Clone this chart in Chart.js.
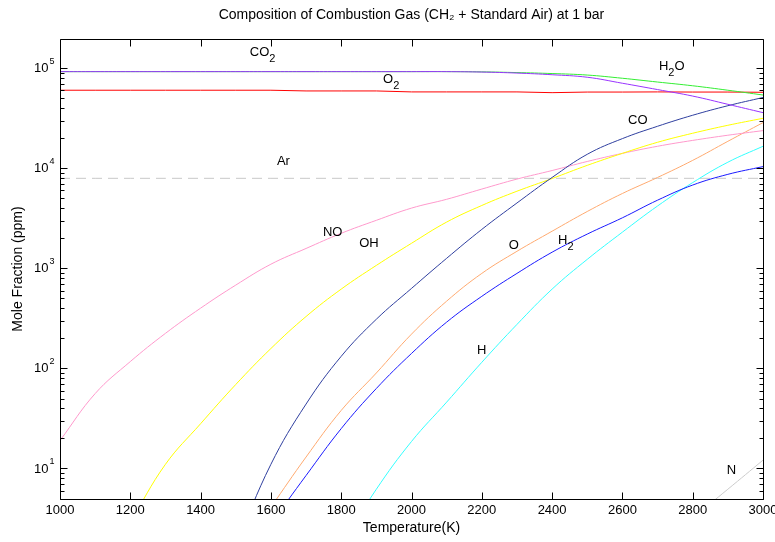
<!DOCTYPE html>
<html>
<head>
<meta charset="utf-8">
<script src="https://cdn.jsdelivr.net/npm/chart.js@4.4.1/dist/chart.umd.min.js"></script>
<style>
html,body{margin:0;padding:0;background:#fff;}
#wrap{width:775px;height:542px;}
canvas{display:block;}
</style>
</head>
<body>
<div id="wrap"><canvas id="c" width="775" height="542"></canvas></div>
<script>
// ---- data (mole fraction in ppm vs temperature in K) ----
const temps = [1000,1100,1200,1300,1400,1500,1600,1700,1800,1900,2000,2100,2200,2300,2400,2500,2600,2700,2800,2900,3000];
const co2 = [92500,92500,92500,92500,92500,92500,92500,92500,92500,92500,92500,92500,91600,89500,86100,81300,70800,61200,52700,43600,36000];
const h2o = [92500,92500,92500,92500,92500,92500,92500,92500,92500,92500,92500,92500,92000,90500,88500,85500,79400,72800,66800,60300,54000];
const o2  = [60300,60300,60300,60300,60300,60300,60300,59300,59300,59300,58000,58000,58000,58000,57000,57800,57800,58000,57800,57800,57500];
const coV = [null,null,null,null,null,1.7,11,44,132,310,630,1260,2450,4500,8100,13800,19800,26300,33900,42200,51000];
const oh  = [null,null,2.9,11,28,69,158,330,620,1070,1780,2900,4250,5900,7900,10700,14100,18200,22400,26900,31600];
const no  = [19,56,117,224,400,680,1100,1580,2240,3020,4000,4900,6200,7800,9500,11700,14100,16600,19000,21400,23800];
const oV  = [null,null,null,null,null,null,4.1,13,38,90,220,470,890,1480,2350,3700,5600,8100,12000,18600,28600];
const h2  = [null,null,null,null,null,null,2.8,8.5,25,63,141,290,525,890,1450,2200,3200,4800,6800,8700,10400];
const hV  = [null,null,null,null,null,null,null,null,1.7,6.2,18.6,46,115,275,620,1230,2300,4200,7200,11500,16600];
const nV  = [null,null,null,null,null,null,null,null,null,null,null,null,null,null,null,null,null,null,3.2,6.2,12.1];
const ar  = [7940,7940,7940,7940,7940,7940,7940,7940,7940,7940,7940,7940,7940,7940,7940,7940,7940,7940,7940,7940,7940];
const xTicks = [1000,1200,1400,1600,1800,2000,2200,2400,2600,2800,3000];
const yDecades = [1,2,3,4,5];

// in-plot labels: text ('_' marks a subscript char), anchor temperature, anchor value
const labelTexts = ['CO_2','H_2O','O_2','CO','Ar','NO','OH','O','H_2','H','N'];
const labelT = [1540,2704,1919,2616,1617,1748,1851,2277,2417,2186,2897];
const labelV = [144000,105000,78200,30400,11800,2300,1790,1710,1920,152,9.6];

const FONT = '"Liberation Sans", Arial, Helvetica, sans-serif';

function pts(arr){ return temps.map((t,i)=>({x:t, y:arr[i]})); }
function ds(label, arr, color, extra){
  return Object.assign({label, data: pts(arr), borderColor: color, backgroundColor: color,
    borderWidth: 1, pointRadius: 0, fill: false, tension: 0.4, spanGaps: false}, extra||{});
}

const frame = {
  id: 'frame',
  afterDatasetsDraw(chart){
    const {ctx, chartArea: a, scales: {x, y}} = chart;
    ctx.save();
    ctx.strokeStyle = '#000';
    ctx.lineWidth = 1;
    const L = Math.floor(a.left) + 0.5, R = Math.floor(a.right) + 0.5;
    const T = Math.floor(a.top) + 0.5, B = Math.floor(a.bottom) + 0.5;
    ctx.beginPath();
    ctx.rect(L, T, R - L, B - T);
    xTicks.forEach(t => {
      const px = Math.round(x.getPixelForValue(t)) + 0.5;
      ctx.moveTo(px, B); ctx.lineTo(px, B - 7);
      ctx.moveTo(px, T); ctx.lineTo(px, T + 7);
    });
    for (let e = 0; e <= 5; e++) {
      for (let m = 1; m <= 9; m++) {
        const v = m * Math.pow(10, e);
        if (v < y.min || v > y.max) continue;
        const py = Math.round(y.getPixelForValue(v)) + 0.5;
        const len = m === 1 ? 7 : 4;
        ctx.moveTo(L, py); ctx.lineTo(L + len, py);
        ctx.moveTo(R, py); ctx.lineTo(R - len, py);
      }
    }
    ctx.stroke();

    ctx.fillStyle = '#000';
    yDecades.forEach(e => {
      const py = y.getPixelForValue(Math.pow(10, e));
      ctx.font = '13px ' + FONT;
      ctx.textAlign = 'right';
      ctx.textBaseline = 'middle';
      ctx.fillText('10', 48.5, py + 0.5);
      ctx.font = '9px ' + FONT;
      ctx.textAlign = 'left';
      ctx.textBaseline = 'alphabetic';
      ctx.fillText(String(e), 49.5, py - 4.5);
    });

    labelTexts.forEach((txt, i) => {
      let cx = x.getPixelForValue(labelT[i]);
      const cy = y.getPixelForValue(labelV[i]);
      ctx.textAlign = 'left';
      ctx.textBaseline = 'middle';
      for (let k = 0; k < txt.length; k++) {
        let ch = txt[k], sub = false;
        if (ch === '_') { sub = true; k++; ch = txt[k]; }
        ctx.font = (sub ? '11px ' : '13px ') + FONT;
        ctx.fillText(ch, cx, sub ? cy + 7 : cy);
        cx += ctx.measureText(ch).width;
      }
    });
    ctx.restore();
  }
};

new Chart(document.getElementById('c'), {
  type: 'line',
  data: {
    datasets: [
      ds('CO2', co2, '#9933ff'),
      ds('H2O', h2o, '#33ee33'),
      ds('O2', o2, '#ff0000', {tension: 0}),
      ds('CO', coV, '#2f3f9f'),
      ds('OH', oh, '#ffff00'),
      ds('NO', no, '#ff99cc'),
      ds('O', oV, '#ffaa70'),
      ds('H2', h2, '#1a1aff'),
      ds('H', hV, '#33ffff'),
      ds('N', nV, '#cccccc'),
      ds('Ar', ar, '#c8c8c8', {borderDash: [10, 6], tension: 0})
    ]
  },
  options: {
    responsive: false,
    animation: false,
    devicePixelRatio: 1,
    events: [],
    layout: { padding: { left: 0, right: 12, top: 0, bottom: 0 }, autoPadding: false },
    plugins: {
      legend: { display: false },
      tooltip: { enabled: false },
      title: {
        display: true,
        text: 'Composition of Combustion Gas (CH\u2082 + Standard Air) at 1 bar',
        color: '#000',
        font: { family: FONT, size: 14, weight: 'normal' },
        padding: { top: 6.6, bottom: 15.6 },
        fullSize: false
      }
    },
    scales: {
      x: {
        type: 'linear',
        min: 1000, max: 3000,
        afterBuildTicks(s){ s.ticks = xTicks.map(v => ({value: v})); },
        afterFit(s){ s.height = 43; s.paddingLeft = 0; s.paddingRight = 0; },
        grid: { display: false, drawTicks: false },
        border: { display: false },
        ticks: { color: '#000', font: { family: FONT, size: 13 }, padding: 4, maxRotation: 0, autoSkip: false,
                 callback: v => String(v) },
        title: { display: true, text: 'Temperature(K)', color: '#000', font: { family: FONT, size: 14 }, padding: { top: 0, bottom: 5.6 } }
      },
      y: {
        type: 'logarithmic',
        min: 4.95, max: 196000,
        afterFit(s){ s.width = 60; s.paddingTop = 0; s.paddingBottom = 0; },
        grid: { display: false, drawTicks: false },
        border: { display: false },
        ticks: { display: false },
        title: { display: true, text: 'Mole Fraction (ppm)', color: '#000', font: { family: FONT, size: 14 }, padding: { top: 9.9, bottom: 0 } }
      }
    }
  },
  plugins: [frame]
});
</script>
</body>
</html>
